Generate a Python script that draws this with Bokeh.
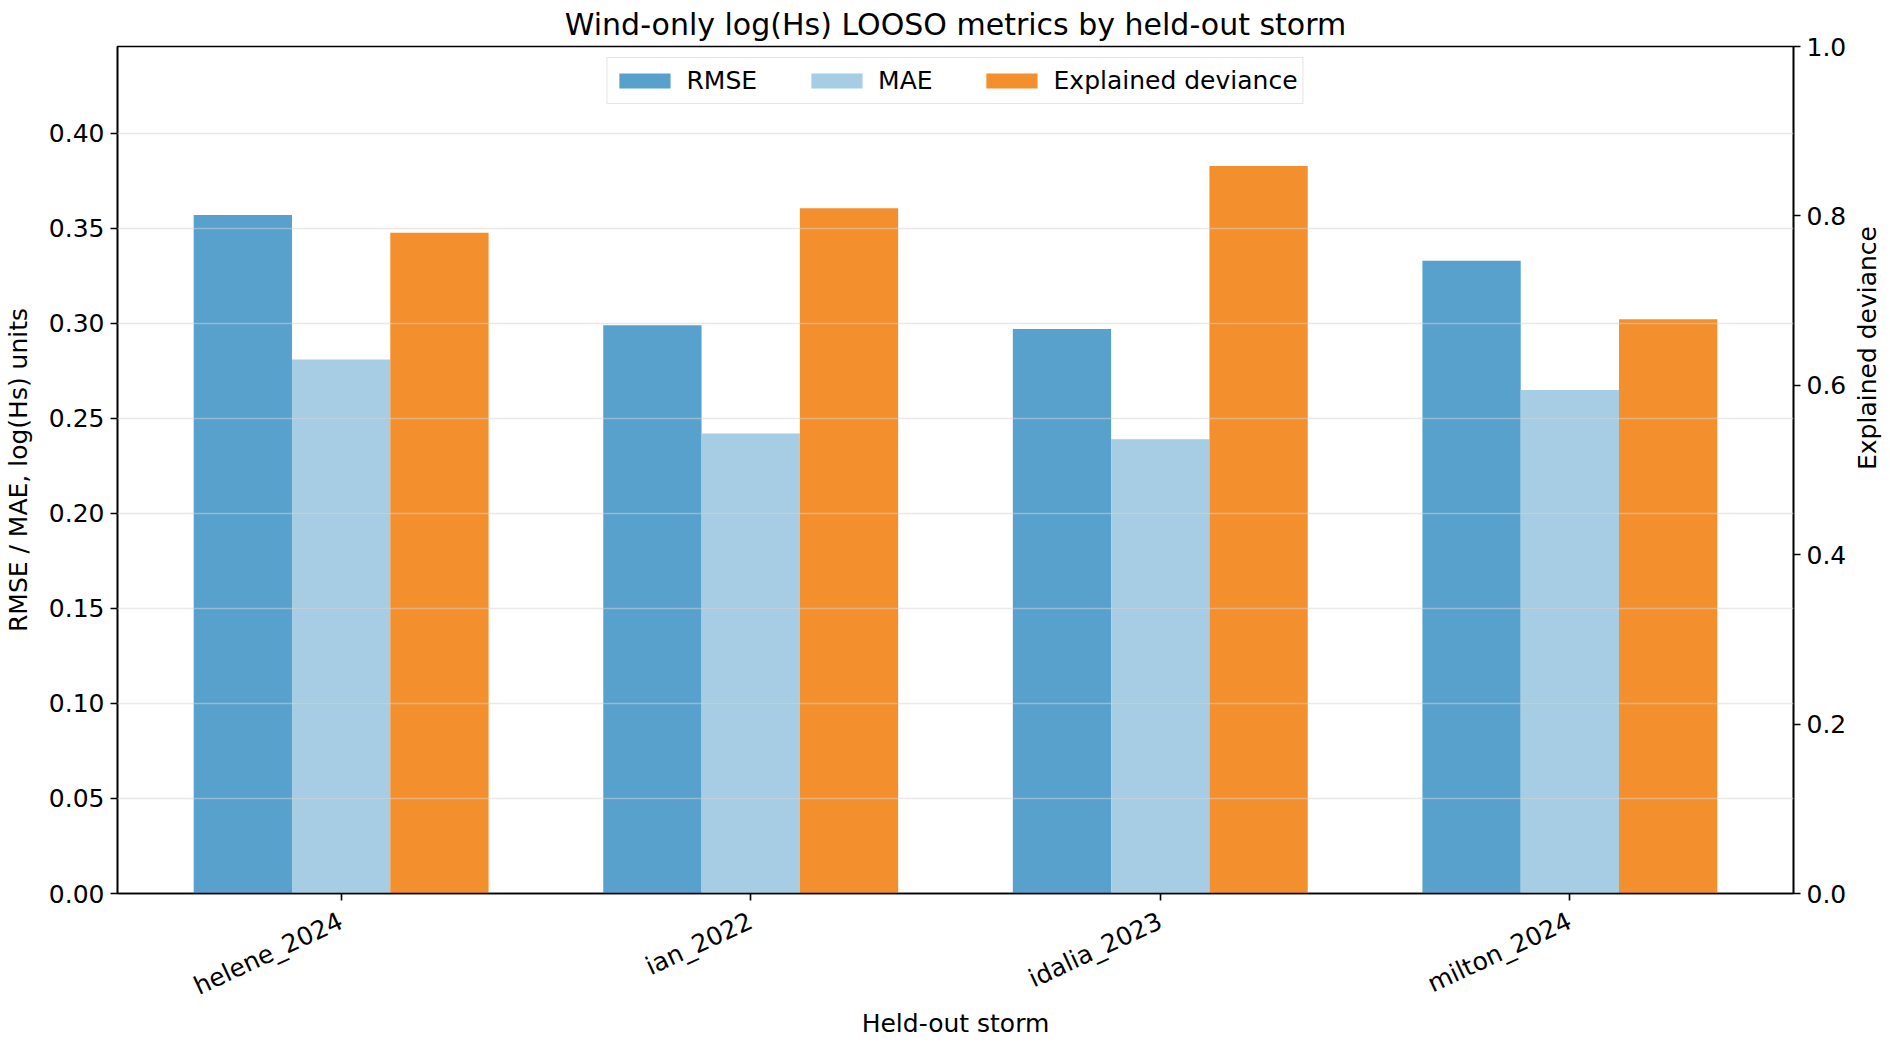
import math
from bokeh.plotting import figure
from bokeh.models import (Range1d, LinearAxis, FixedTicker, PrintfTickFormatter,
                          Legend, LegendItem, ColumnDataSource)
from bokeh.embed import file_html
from bokeh.resources import INLINE

# data
storms = ["helene_2024", "ian_2022", "idalia_2023", "milton_2024"]
rmse = [0.357, 0.299, 0.297, 0.333]
mae = [0.281, 0.242, 0.239, 0.265]
expl_dev = [0.780, 0.809, 0.859, 0.678]

FONT = "DejaVu Sans"
c_rmse = "#58a1cd"
c_mae = "#a6cde3"
c_ed = "#f48f2d"
w = 0.24

x = list(range(len(storms)))
src = ColumnDataSource(dict(
    x_rmse=[i - w for i in x], x_mae=x, x_ed=[i + w for i in x],
    rmse=rmse, mae=mae, ed=expl_dev))

p = figure(frame_width=1676, frame_height=847,
           min_border_left=115, min_border_top=46,
           min_border_right=60, min_border_bottom=140,
           x_range=Range1d(-0.546, 3.546), y_range=Range1d(0, 0.4457),
           output_backend="svg", toolbar_location=None,
           title="Wind-only log(Hs) LOOSO metrics by held-out storm")
p.extra_y_ranges = {"ed": Range1d(0, 1.0)}

r1 = p.vbar(x="x_rmse", top="rmse", width=w, source=src, color=c_rmse, line_width=0)
r2 = p.vbar(x="x_mae", top="mae", width=w, source=src, color=c_mae, line_width=0)
r3 = p.vbar(x="x_ed", top="ed", width=w, source=src, color=c_ed, line_width=0,
            y_range_name="ed")

right = LinearAxis(y_range_name="ed",
                   ticker=FixedTicker(ticks=[0.0, 0.2, 0.4, 0.6, 0.8, 1.0]),
                   formatter=PrintfTickFormatter(format="%.1f"))
p.add_layout(right, "right")

# second right axis only carries the title, reading bottom to top
right_title = LinearAxis(y_range_name="ed", axis_label="Explained deviance",
                         ticker=FixedTicker(ticks=[]),
                         axis_line_color=None, major_tick_line_color=None,
                         minor_tick_line_color=None,
                         axis_label_orientation=math.pi / 2,
                         axis_label_standoff=18,
                         axis_label_text_font=FONT, axis_label_text_font_size="25px",
                         axis_label_text_font_style="normal",
                         axis_label_text_color="black")
p.add_layout(right_title, "right")

p.xaxis.ticker = FixedTicker(ticks=x)
p.xaxis.major_label_overrides = {i: s for i, s in enumerate(storms)}
p.xaxis.major_label_orientation = math.radians(25)
p.xaxis.axis_label = "Held-out storm"
p.yaxis[0].axis_label = "RMSE / MAE, log(Hs) units"
p.yaxis[0].ticker = FixedTicker(ticks=[0.0, 0.05, 0.10, 0.15, 0.20, 0.25, 0.30, 0.35, 0.40])
p.yaxis[0].formatter = PrintfTickFormatter(format="%.2f")

for ax in p.xaxis + [p.yaxis[0], right]:
    ax.major_label_text_font = FONT
    ax.major_label_text_font_size = "25px"
    ax.major_label_text_color = "black"
    ax.axis_label_text_font = FONT
    ax.axis_label_text_font_size = "25px"
    ax.axis_label_text_font_style = "normal"
    ax.axis_label_text_color = "black"
    ax.axis_line_color = "black"
    ax.axis_line_width = 1.6
    ax.major_tick_line_color = "black"
    ax.major_tick_line_width = 1.6
    ax.major_tick_out = 7
    ax.major_tick_in = 0
    ax.minor_tick_line_color = None
    ax.major_label_standoff = 6
p.xaxis.major_label_standoff = 19
p.xaxis.axis_label_standoff = -8
p.yaxis[0].axis_label_standoff = 13

p.xgrid.grid_line_color = None
p.ygrid.grid_line_color = "#d4d4d4"
p.ygrid.grid_line_alpha = 0.5
p.ygrid.grid_line_width = 1.6
p.ygrid.level = "guide"

p.outline_line_color = "black"
p.outline_line_width = 1.6
p.outline_line_alpha = 1.0

p.title.align = "center"
p.title.text_font = FONT
p.title.text_font_size = "30px"
p.title.text_font_style = "normal"
p.title.text_color = "black"
p.title.standoff = 9

legend = Legend(items=[LegendItem(label="RMSE", renderers=[r1]),
                       LegendItem(label="MAE", renderers=[r2]),
                       LegendItem(label="Explained deviance", renderers=[r3])],
                location="top_center", orientation="horizontal",
                margin=11, padding=5, spacing=47,
                glyph_width=64, glyph_height=19, label_standoff=10,
                label_height=35,
                label_text_font=FONT, label_text_font_size="25px",
                label_text_color="black",
                border_line_color="#cccccc", border_line_width=1.6,
                background_fill_alpha=0.8)
p.add_layout(legend)

open("out.html", "w").write(file_html(p, INLINE))
